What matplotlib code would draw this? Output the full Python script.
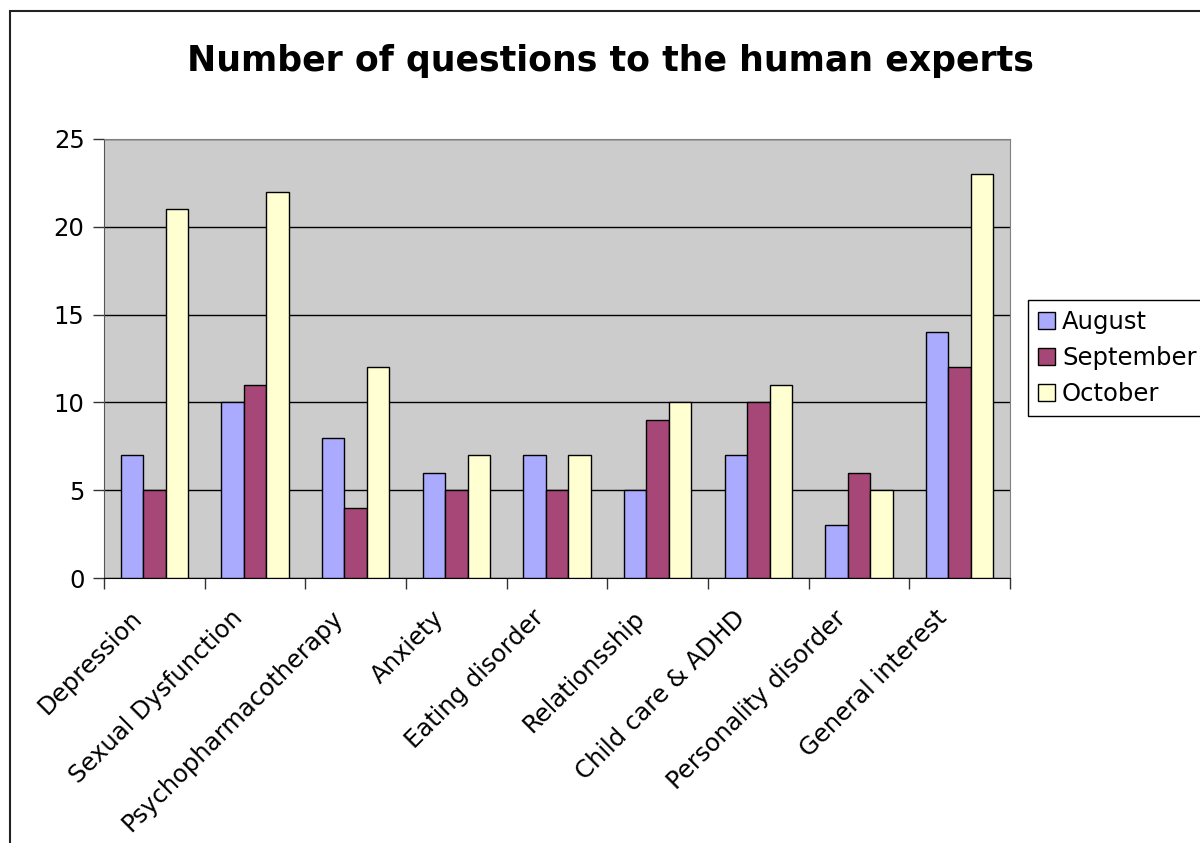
import matplotlib
matplotlib.use("Agg")
import matplotlib.pyplot as plt
import numpy as np
from matplotlib.patches import Rectangle

categories = ["Depression", "Sexual Dysfunction", "Psychopharmacotherapy", "Anxiety",
              "Eating disorder", "Relationsship", "Child care & ADHD",
              "Personality disorder", "General interest"]
august = [7, 10, 8, 6, 7, 5, 7, 3, 14]
september = [5, 11, 4, 5, 5, 9, 10, 6, 12]
october = [21, 22, 12, 7, 7, 10, 11, 5, 23]
series_names = ["August", "September", "October"]
colors = ["#AAAAFF", "#A64777", "#FFFFD2"]
yticks = [0, 5, 10, 15, 20, 25]

plt.rcParams['font.family'] = ['DejaVu Sans']

fig = plt.figure(figsize=(12, 8.43), dpi=100)
ax = fig.add_axes([104/1200, 1-578/843, (1010-104)/1200, (578-139)/843])
ax.set_facecolor("#CCCCCC")

n = len(categories)
x = np.arange(n)
w = 0.224
for i, (vals, name, c) in enumerate(zip([august, september, october], series_names, colors)):
    ax.bar(x + (i-1)*w, vals, width=w, color=c, edgecolor="black", linewidth=1.0,
           label=name, zorder=3)

ax.set_xlim(-0.5, n-0.5)
ax.set_ylim(0, 25)
ax.set_yticks(yticks)
ax.set_yticklabels([str(v) for v in yticks], fontsize=17.5)
ax.yaxis.grid(True, color="black", linewidth=1.0, zorder=1)
ax.set_axisbelow(True)

# category boundary ticks
ax.set_xticks(np.arange(n+1) - 0.5)
ax.set_xticklabels([])
ax.tick_params(axis='x', direction='out', length=8, width=1, color="#333333")
ax.tick_params(axis='y', direction='out', length=8, width=1, color="#333333", pad=6)

for xi, cat in zip(x, categories):
    ax.annotate(cat, xy=(xi, 0), xycoords=('data', 'axes fraction'),
                xytext=(-18, -20), textcoords='offset points',
                rotation=45, ha='right', va='top', rotation_mode='anchor',
                fontsize=17.5)

for s in ['top', 'right']:
    ax.spines[s].set_color("#808080")
ax.spines['left'].set_color("#555555")
ax.spines['bottom'].set_color("black")

leg = ax.legend(loc='upper left', bbox_to_anchor=(1028/1200, 1-300/843),
                bbox_transform=fig.transFigure, fontsize=17.5, frameon=True,
                fancybox=False, edgecolor="black", framealpha=1,
                handlelength=0.7, handleheight=0.7, handletextpad=0.3,
                borderpad=0.4, labelspacing=0.5, borderaxespad=0)
leg.get_frame().set_linewidth(1.0)

fig.text(610/1200, 1-61/843, "Number of questions to the human experts",
         ha='center', va='center', fontsize=25, fontweight='bold')

fig.patches.append(Rectangle((10/1200, -0.1), 1.2, 1.1 - 11/843,
                             transform=fig.transFigure, fill=False,
                             edgecolor="#222222", linewidth=1.5))

fig.savefig("out.png", dpi=100)
